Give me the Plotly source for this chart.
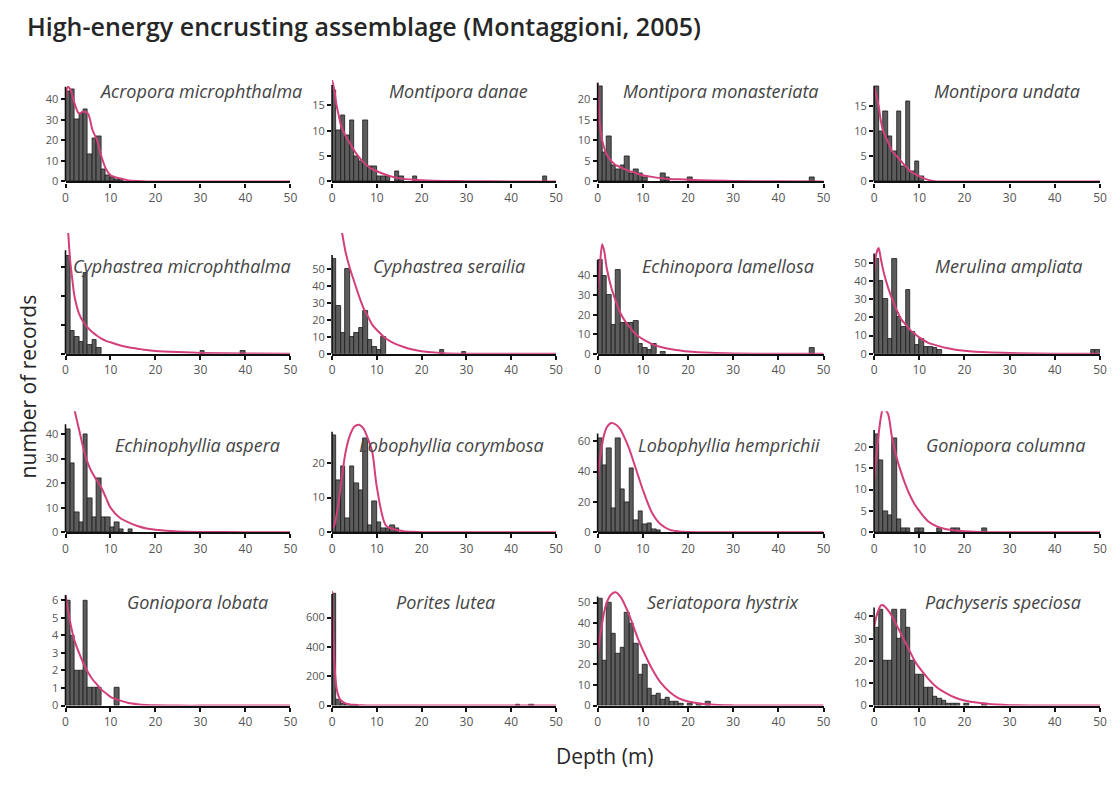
import plotly.graph_objects as go

# ---------------- data ----------------
species = [
    "Acropora microphthalma", "Montipora danae", "Montipora monasteriata", "Montipora undata",
    "Cyphastrea microphthalma", "Cyphastrea serailia", "Echinopora lamellosa", "Merulina ampliata",
    "Echinophyllia aspera", "Lobophyllia corymbosa", "Lobophyllia hemprichii", "Goniopora columna",
    "Goniopora lobata", "Porites lutea", "Seriatopora hystrix", "Pachyseris speciosa",
]

# depth (m) at which each fitted curve value is read
curve_depth = [0, 0.5, 1, 1.5, 2, 3, 4, 5, 6, 7, 8, 9, 10, 12, 14, 16, 18, 20, 25, 30, 40, 50]

# histogram: bin start depth (m) and number of records
acropora_bins = [0, 1, 2, 3, 4, 5, 6, 7, 8, 9, 10, 11, 12]
acropora_counts = [44, 45, 30, 33, 35, 13, 21, 22, 6, 3, 2, 1, 1]
acropora_curve = [40, 46, 45, 42, 38, 33, 34, 33, 25, 20, 12, 6, 3, 1.5, 0.5, 0.2, 0, 0, 0, 0, 0, 0]

danae_bins = [0, 1, 2, 3, 4, 5, 6, 7, 8, 9, 10, 11, 12, 14, 15, 18, 47]
danae_counts = [18, 10, 13, 9, 12, 5, 4, 12, 3, 3, 1, 1, 1, 2, 1, 1, 1]
danae_curve = [20, 18, 15, 13, 11, 9, 7.5, 6, 4.8, 3.8, 3, 2.4, 2, 1.3, 0.8, 0.5, 0.35, 0.25, 0.1, 0.05, 0, 0]

monast_bins = [0, 1, 2, 3, 4, 5, 6, 7, 8, 9, 10, 14, 15, 20, 47]
monast_counts = [23, 7, 11, 4, 3, 4, 6, 2, 3, 2, 1, 2, 1, 1, 1]
monast_curve = [24, 14, 10, 8, 6.5, 5, 4, 3.5, 3, 2.5, 2.2, 1.8, 1.5, 1.1, 0.8, 0.6, 0.5, 0.4, 0.2, 0.1, 0.05, 0]

undata_bins = [0, 1, 2, 3, 4, 5, 6, 7, 8, 9, 10]
undata_counts = [19, 10, 14, 9, 6, 14, 3, 16, 2, 4, 1]
undata_curve = [19, 17, 15, 12, 10, 8, 6, 5, 4, 3, 2, 1.5, 1, 0.3, 0, 0, 0, 0, 0, 0, 0, 0]

cyphmic_bins = [0, 1, 2, 3, 4, 5, 6, 7, 30, 39]
cyphmic_counts = [34, 8, 6, 4, 28, 3, 5, 2, 1, 1]
cyphmic_curve = [60, 45, 33, 26, 20, 14, 11, 9, 7.5, 6.3, 5.3, 4.5, 4, 3, 2.3, 1.8, 1.3, 1, 0.6, 0.3, 0.1, 0]

serailia_bins = [0, 1, 2, 3, 4, 5, 6, 7, 8, 9, 10, 11, 24, 29]
serailia_counts = [56, 28, 12, 50, 10, 12, 15, 25, 8, 4, 2, 10, 2, 1]
serailia_curve = [130, 110, 95, 84, 75, 60, 50, 42, 34, 27, 22, 17, 14, 9, 6, 4, 2.5, 1.5, 0.4, 0.1, 0, 0]

echlam_bins = [0, 1, 2, 3, 4, 5, 6, 7, 8, 9, 10, 11, 12, 14, 47]
echlam_counts = [48, 40, 30, 15, 43, 16, 16, 16, 17, 5, 3, 2, 5, 1, 3]
echlam_curve = [30, 45, 56, 52, 44, 34, 27, 21, 17, 14, 11, 9, 7.5, 5, 3.5, 2.5, 1.8, 1.2, 0.5, 0.2, 0, 0]

merulina_bins = [0, 1, 2, 3, 4, 5, 6, 7, 8, 9, 10, 11, 12, 13, 14, 48, 49]
merulina_counts = [52, 40, 30, 8, 52, 20, 15, 35, 12, 5, 8, 4, 4, 3, 2, 2, 2]
merulina_curve = [45, 55, 58, 52, 46, 37, 30, 24, 19, 16, 13, 11, 9, 6, 4.5, 3.2, 2.3, 1.7, 0.8, 0.4, 0.1, 0]

echasp_bins = [0, 1, 2, 3, 4, 5, 6, 7, 8, 9, 10, 11, 12, 14]
echasp_counts = [42, 28, 8, 4, 40, 14, 6, 22, 6, 6, 2, 4, 1, 1]
echasp_curve = [80, 72, 64, 57, 50, 42, 34, 28, 24, 21, 18, 14, 10, 6, 4, 2.5, 1.5, 1, 0.3, 0.1, 0, 0]

lobcor_bins = [0, 1, 2, 3, 4, 5, 6, 7, 8, 9, 10, 11, 12, 13, 14]
lobcor_counts = [28, 15, 19, 4, 19, 14, 12, 27, 2, 9, 3, 1, 1, 2, 1]
lobcor_curve = [1, 2, 5, 9, 14, 23, 28, 30.5, 31, 30, 27, 23, 13, 2, 0.8, 0.3, 0.1, 0, 0, 0, 0, 0]

lobhem_bins = [0, 1, 2, 3, 4, 5, 6, 7, 8, 9, 10, 11, 12, 13]
lobhem_counts = [62, 44, 55, 16, 62, 28, 20, 42, 8, 14, 5, 6, 2, 1]
lobhem_curve = [35, 48, 58, 65, 69, 72, 71, 68, 62, 55, 46, 37, 28, 13, 5, 1.5, 0.5, 0.2, 0, 0, 0, 0]

gonicol_bins = [0, 1, 2, 3, 4, 5, 6, 7, 9, 10, 14, 17, 18, 24]
gonicol_counts = [23, 17, 5, 4, 22, 3, 1, 1, 1, 1, 1, 1, 1, 1]
gonicol_curve = [12, 18, 23, 27, 29, 28, 22, 17.5, 14, 11, 8.5, 6.5, 5, 2.5, 1.3, 0.7, 0.4, 0.2, 0, 0, 0, 0]

gonilob_bins = [0, 1, 2, 3, 4, 5, 6, 7, 11]
gonilob_counts = [6, 4, 2, 2, 6, 1, 1, 1, 1]
gonilob_curve = [6.3, 5.5, 4.8, 4.2, 3.7, 3, 2.4, 1.9, 1.5, 1.2, 0.9, 0.7, 0.5, 0.3, 0.15, 0.08, 0.04, 0.02, 0, 0, 0, 0]

porites_bins = [0, 1, 2, 3, 4, 5, 41, 44]
porites_counts = [760, 40, 10, 5, 2, 1, 8, 6]
porites_curve = [780, 300, 120, 60, 35, 15, 8, 5, 3, 2, 1, 0.5, 0.3, 0.1, 0, 0, 0, 0, 0, 0, 0, 0]

seriat_bins = [0, 1, 2, 3, 4, 5, 6, 7, 8, 9, 10, 11, 12, 13, 14, 15, 16, 17, 18, 20, 22, 24]
seriat_counts = [52, 22, 50, 35, 25, 28, 45, 40, 30, 15, 20, 8, 5, 6, 3, 4, 2, 2, 1, 1, 1, 2]
seriat_curve = [25, 33, 40, 46, 50, 54, 55, 53, 49, 44, 38, 32, 27, 18, 11, 6.5, 3.5, 2, 0.5, 0.1, 0, 0]

pachy_bins = [0, 1, 2, 3, 4, 5, 6, 7, 8, 9, 10, 11, 12, 13, 14, 15, 16, 17, 18, 20, 24]
pachy_counts = [35, 43, 20, 20, 43, 30, 43, 35, 20, 14, 14, 8, 8, 4, 3, 2, 1, 1, 1, 1, 1]
pachy_curve = [35, 40, 43, 45, 45, 43, 40, 36, 32, 28, 24, 20, 17, 12, 8, 5.5, 3.5, 2.3, 0.8, 0.2, 0, 0]

all_bins = [acropora_bins, danae_bins, monast_bins, undata_bins,
            cyphmic_bins, serailia_bins, echlam_bins, merulina_bins,
            echasp_bins, lobcor_bins, lobhem_bins, gonicol_bins,
            gonilob_bins, porites_bins, seriat_bins, pachy_bins]
all_counts = [acropora_counts, danae_counts, monast_counts, undata_counts,
              cyphmic_counts, serailia_counts, echlam_counts, merulina_counts,
              echasp_counts, lobcor_counts, lobhem_counts, gonicol_counts,
              gonilob_counts, porites_counts, seriat_counts, pachy_counts]
all_curves = [acropora_curve, danae_curve, monast_curve, undata_curve,
              cyphmic_curve, serailia_curve, echlam_curve, merulina_curve,
              echasp_curve, lobcor_curve, lobhem_curve, gonicol_curve,
              gonilob_curve, porites_curve, seriat_curve, pachy_curve]

x_ticks = [0, 10, 20, 30, 40, 50]
# highest labelled y tick and tick step of each panel
y_tick_max = [40, 15, 20, 15,
              30, 50, 40, 50,
              40, 20, 60, 20,
              6, 600, 50, 40]
y_dtick = [10, 5, 5, 5,
           10, 10, 10, 10,
           10, 10, 20, 5,
           1, 200, 10, 10]

# ---------------- layout config ----------------
OFF = 8                      # page body margin
W, H = 1119 - 2 * OFF, 787 - 2 * OFF
col_px = [(63, 290), (332, 558), (600, 828), (879, 1107)]
row_px = [(78, 183), (235, 357), (415, 537), (595, 712)]  # (top, bottom)
y_top = [50.6, 20.5, 25.3, 20.7,
         42.0, 71.0, 61.8, 66.3,
         49.3, 34.9, 79.7, 28.4,
         6.6, 790, 56.3, 52.0]
y_line_top = [46, 19, 24, 19,
              36, 58, 48, 55,
              44, 29, 65, 24,
              6.3, 760, 53, 44]
y_labels_on = [True, True, True, True,
               False, True, True, True,
               True, True, True, True,
               True, True, True, True]
title_cx = [199, 460, 724, 1013,
            181, 450, 732, 1015,
            196, 453, 733, 1012,
            196, 446, 727, 1009]
title_cy = [92, 268, 449, 607]


def fx(px):
    return (px - OFF) / W


def fy(py):
    return 1 - (py - OFF) / H


FONT = "Open Sans"
BAR_FILL = "#5c5c5c"
BAR_LINE = "#1a1a1a"
CURVE = "#d23f7b"
AXIS = "#111111"

fig = go.Figure()
layout = dict(
    width=W, height=H, autosize=False,
    margin=dict(l=0, r=0, t=0, b=0, pad=0),
    paper_bgcolor="white", plot_bgcolor="rgba(0,0,0,0)",
    showlegend=False, bargap=0,
    font=dict(family=FONT, color="#444"),
)
annotations = []
shapes = []

for i in range(16):
    r, c = divmod(i, 4)
    k = i + 1
    xa = "x" if k == 1 else f"x{k}"
    ya = "y" if k == 1 else f"y{k}"
    bins = all_bins[i]
    fig.add_trace(go.Bar(
        x=[b + 0.5 for b in bins], y=all_counts[i], width=1,
        marker=dict(color=BAR_FILL, line=dict(color=BAR_LINE, width=0.8)),
        xaxis=xa, yaxis=ya,
    ))
    fig.add_trace(go.Scatter(
        x=curve_depth, y=all_curves[i], mode="lines",
        line=dict(color=CURVE, width=2, shape="spline", smoothing=0.8),
        xaxis=xa, yaxis=ya,
    ))
    x0, x1 = col_px[c]
    t, b = row_px[r]
    n_ticks = int(round(y_tick_max[i] / y_dtick[i]))
    yvals = [j * y_dtick[i] for j in range(n_ticks + 1)]
    layout[f"xaxis{'' if k == 1 else k}"] = dict(
        domain=[fx(x0), fx(x1)], range=[0, 50], anchor=ya,
        tickvals=x_ticks, ticks="outside", ticklen=4, tickwidth=1.5, tickcolor=AXIS,
        showline=True, linecolor=AXIS, linewidth=2.4,
        showgrid=False, zeroline=False,
        tickfont=dict(size=12, color="#555", family=FONT),
    )
    layout[f"yaxis{'' if k == 1 else k}"] = dict(
        domain=[fy(b), fy(t)], range=[0, y_top[i]], anchor=xa,
        tickvals=yvals, ticks="outside", ticklen=4, tickwidth=1.5, tickcolor=AXIS,
        showline=False, showgrid=False, zeroline=False, showticklabels=y_labels_on[i],
        tickfont=dict(size=11, color="#555", family=FONT),
    )
    shapes.append(dict(
        type="line", xref=f"{xa} domain", yref=ya, x0=0, x1=0, y0=0, y1=y_line_top[i],
        line=dict(color=AXIS, width=1.6), layer="above",
    ))
    annotations.append(dict(
        text=f"<i>{species[i]}</i>", xref="paper", yref="paper",
        x=fx(title_cx[i]), y=fy(title_cy[r]), xanchor="center", yanchor="middle",
        showarrow=False, font=dict(size=18, color="#444", family=FONT),
    ))

annotations.append(dict(
    text="High-energy encrusting assemblage (Montaggioni, 2005)", xref="paper", yref="paper",
    x=fx(22), y=fy(26.5), xanchor="left", yanchor="middle", showarrow=False,
    font=dict(size=25, color="#262626", family=FONT, weight=600),
))
annotations.append(dict(
    text="number of records", xref="paper", yref="paper",
    x=fx(25), y=fy(390), xanchor="center", yanchor="middle", showarrow=False,
    textangle=-90, font=dict(size=21, color="#262626", family=FONT),
))
annotations.append(dict(
    text="Depth (m)", xref="paper", yref="paper",
    x=fx(607), y=fy(763), xanchor="center", yanchor="middle", showarrow=False,
    font=dict(size=21, color="#262626", family=FONT),
))
layout["annotations"] = annotations
layout["shapes"] = shapes
fig.update_layout(**layout)
fig.write_html("out.html")
